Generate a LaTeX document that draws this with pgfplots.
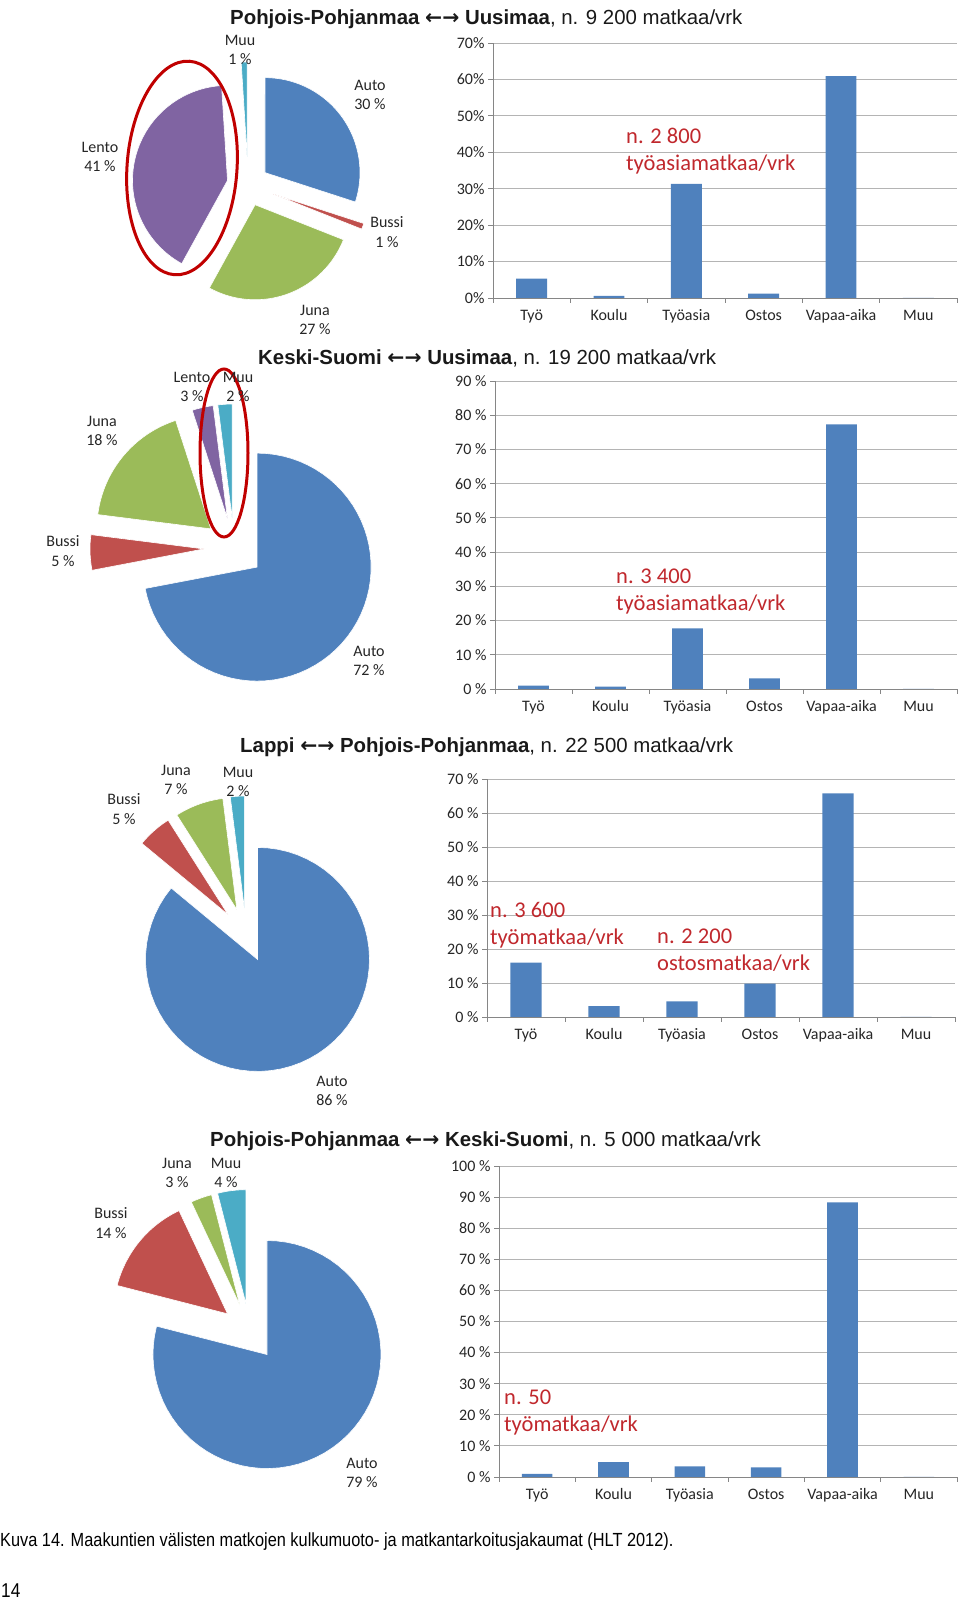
\documentclass[border=0pt]{standalone}
\usepackage{pgfplots}
\pgfplotsset{compat=1.18}
\usepackage{fontspec}
\setmainfont{Carlito}
\newfontfamily\arialf{Liberation Sans}
\newfontfamily\djv{DejaVu Sans}
\newfontfamily\narrowf[FakeStretch=0.86]{Liberation Sans}
\definecolor{pblue}{HTML}{4F81BD}
\definecolor{pred}{HTML}{C0504D}
\definecolor{pgreen}{HTML}{9BBB59}
\definecolor{ppurple}{HTML}{8064A2}
\definecolor{pcyan}{HTML}{4BACC6}
\definecolor{annred}{HTML}{C0282D}
\definecolor{axgray}{HTML}{868686}
\definecolor{gridgray}{HTML}{B4B4B4}
\definecolor{txt}{HTML}{262626}
\definecolor{ellred}{HTML}{C00000}

\newcommand\arr{{\djv\bfseries ←→}}
\newcommand\piestart{\gdef\cum{0}}
% #1 colour, #2 share (%), #3 explode (px), #4 radius (px)
\newcommand\slice[4]{%
  \pgfmathsetmacro\pa{\cum}%
  \pgfmathsetmacro\pb{\cum+#2}%
  \pgfmathsetmacro\aS{90-3.6*\pb}%
  \pgfmathsetmacro\aE{90-3.6*\pa}%
  \pgfmathsetmacro\aM{90-1.8*(\pa+\pb)}%
  \pgfmathsetmacro\dx{#3*cos(\aM)}%
  \pgfmathsetmacro\dy{#3*sin(\aM)}%
  \xdef\cum{\pb}%
  \edef\tmp{\noexpand\addplot[fill=#1,draw=white,line width=0.6pt,mark=none,domain=\aS:\aE,samples=60,variable=\noexpand\t]
    ({\dx+#4*cos(\noexpand\t)},{\dy+#4*sin(\noexpand\t)}) -- (axis cs:\dx,\dy) -- cycle;}%
  \tmp
}

\pgfplotsset{
  pieax/.style={hide axis, scale only axis, x=1pt, y=1pt, xmin=-150, xmax=150, ymin=-150, ymax=150, clip=false, anchor=center},
  barax/.style={scale only axis, xmin=0, xmax=6, ymin=0,
    axis x line*=bottom, axis y line*=left,
    axis line style={draw=axgray, line width=0.8pt},
    xtick={0,1,...,6}, xticklabels={},
    extra x ticks={0.5,1.5,2.5,3.5,4.5,5.5},
    extra x tick labels={Työ,Koulu,Työasia,Ostos,Vapaa-aika,Muu},
    extra x tick style={major tick length=0pt},
    major tick length=5pt, tick align=outside,
    tick style={draw=axgray, line width=0.8pt},
    ymajorgrids, grid style={draw=gridgray, line width=0.8pt},
    /pgf/number format/assume math mode=true,
    ticklabel style={font=\fontsize{16}{19}\selectfont, text=txt},
    xticklabel style={yshift=-8pt, text height=11pt, text depth=3pt},
    ybar, bar width=0.4,
  },
  pct/.style={yticklabel={\pgfmathprintnumber{\tick}\ \%}},
  pctnos/.style={yticklabel={\pgfmathprintnumber{\tick}\%}},
}

\tikzset{
  plab/.style={align=center, font=\fontsize{16}{19.5}\selectfont, text=txt, inner sep=0pt},
  ann/.style={align=left, anchor=west, font=\fontsize{22.5}{27}\selectfont, text=annred, inner sep=0pt},
  ttl/.style={anchor=base west, inner sep=0pt, font=\arialf\fontsize{20.4}{24}\selectfont, text=black!90},
}

\begin{document}
\begin{tikzpicture}
\path[use as bounding box] (0pt,0pt) rectangle (960pt,1601pt);

% ================= Panel 1 =================
\node[ttl] at (230pt,1576pt) {\textbf{Pohjois-Pohjanmaa \arr\ Uusimaa}, n. 9 200 matkaa/vrk};
\begin{axis}[pieax, at={(248pt,1416pt)}]
\piestart
\slice{pblue}{30}{21}{95}
\slice{pred}{1}{27}{95}
\slice{pgreen}{27}{21}{95}
\slice{ppurple}{41}{21}{95}
\slice{pcyan}{1}{28}{95}
\end{axis}
\draw[ellred, line width=3pt, rotate around={-4:(182pt,1433pt)}] (182pt,1433pt) ellipse [x radius=55pt, y radius=107pt];
\node[plab] at (240pt,1551pt) {Muu\\1 \%};
\node[plab] at (370pt,1506pt) {Auto\\30 \%};
\node[plab] at (387pt,1369pt) {Bussi\\1 \%};
\node[plab] at (315pt,1281pt) {Juna\\27 \%};
\node[plab] at (100pt,1444pt) {Lento\\41 \%};

\begin{axis}[barax, pctnos, anchor=south west, at={(493pt,1303pt)}, width=464pt, height=255pt,
  ymax=70, ytick={0,10,...,70}]
\addplot[fill=pblue, draw=none] coordinates {(0.5,5.3) (1.5,0.6) (2.5,31.3) (3.5,1.2) (4.5,60.9) (5.5,0)};
\end{axis}
\node[ann] at (626pt,1449.5pt) {n. 2 800\\työasiamatkaa/vrk};

% ================= Panel 2 =================
\node[ttl] at (258pt,1236pt) {\textbf{Keski-Suomi \arr\ Uusimaa}, n. 19 200 matkaa/vrk};
\begin{axis}[pieax, at={(234pt,1053pt)}]
\piestart
\slice{pblue}{72}{30}{114}
\slice{pred}{5}{30}{114}
\slice{pgreen}{18}{30}{114}
\slice{ppurple}{3}{30}{114}
\slice{pcyan}{2}{30}{114}
\end{axis}
\draw[ellred, line width=3pt] (224pt,1148pt) ellipse [x radius=24pt, y radius=84pt];
\node[plab] at (192pt,1214pt) {Lento\\3 \%};
\node[plab] at (238pt,1214pt) {Muu\\2 \%};
\node[plab] at (102pt,1170pt) {Juna\\18 \%};
\node[plab] at (63pt,1050pt) {Bussi\\5 \%};
\node[plab] at (369pt,940pt) {Auto\\72 \%};

\begin{axis}[barax, pct, anchor=south west, at={(495pt,912pt)}, width=462pt, height=308pt,
  ymax=90, ytick={0,10,...,90}]
\addplot[fill=pblue, draw=none] coordinates {(0.5,1.0) (1.5,0.7) (2.5,17.7) (3.5,3.1) (4.5,77.3) (5.5,0)};
\end{axis}
\node[ann] at (616pt,1009pt) {n. 3 400\\työasiamatkaa/vrk};

% ================= Panel 3 =================
\node[ttl] at (240pt,848pt) {\textbf{Lappi \arr\ Pohjois-Pohjanmaa}, n. 22 500 matkaa/vrk};
\begin{axis}[pieax, at={(246pt,666pt)}]
\piestart
\slice{pblue}{86}{27}{112}
\slice{pred}{5}{27}{112}
\slice{pgreen}{7}{27}{112}
\slice{pcyan}{2}{27}{112}
\end{axis}
\node[plab] at (176pt,821pt) {Juna\\7 \%};
\node[plab] at (238pt,819pt) {Muu\\2 \%};
\node[plab] at (124pt,792pt) {Bussi\\5 \%};
\node[plab] at (332pt,510pt) {Auto\\86 \%};

\begin{axis}[barax, pct, anchor=south west, at={(487pt,584pt)}, width=468pt, height=238pt,
  ymax=70, ytick={0,10,...,70}]
\addplot[fill=pblue, draw=none] coordinates {(0.5,16.0) (1.5,3.2) (2.5,4.6) (3.5,9.8) (4.5,65.8) (5.5,0)};
\end{axis}
\node[ann] at (490pt,675.5pt) {n. 3 600\\työmatkaa/vrk};
\node[ann] at (657pt,650.5pt) {n. 2 200\\ostosmatkaa/vrk};

% ================= Panel 4 =================
\node[ttl] at (210pt,454pt) {\textbf{Pohjois-Pohjanmaa \arr\ Keski-Suomi}, n. 5 000 matkaa/vrk};
\begin{axis}[pieax, at={(249.5pt,269pt)}]
\piestart
\slice{pblue}{79}{28.5}{114}
\slice{pred}{14}{28.5}{114}
\slice{pgreen}{3}{28.5}{114}
\slice{pcyan}{4}{28.5}{114}
\end{axis}
\node[plab] at (177pt,428pt) {Juna\\3 \%};
\node[plab] at (226pt,428pt) {Muu\\4 \%};
\node[plab] at (111pt,378pt) {Bussi\\14 \%};
\node[plab] at (362pt,128pt) {Auto\\79 \%};

\begin{axis}[barax, pct, anchor=south west, at={(499pt,124pt)}, width=458pt, height=311pt,
  ymax=100, ytick={0,10,...,100}]
\addplot[fill=pblue, draw=none] coordinates {(0.5,1.0) (1.5,4.8) (2.5,3.4) (3.5,3.1) (4.5,88.3) (5.5,0)};
\end{axis}
\node[ann] at (504pt,188pt) {n. 50\\työmatkaa/vrk};

% ================= Caption =================
\node[anchor=base west, inner sep=0pt, font=\narrowf\fontsize{19}{22}\selectfont] at (0pt,54pt)
  {Kuva 14. Maakuntien välisten matkojen kulkumuoto- ja matkantarkoitusjakaumat (HLT 2012).};
\node[anchor=base west, inner sep=0pt, font=\narrowf\fontsize{20}{24}\selectfont] at (1pt,4pt) {14};
\end{tikzpicture}
\end{document}
